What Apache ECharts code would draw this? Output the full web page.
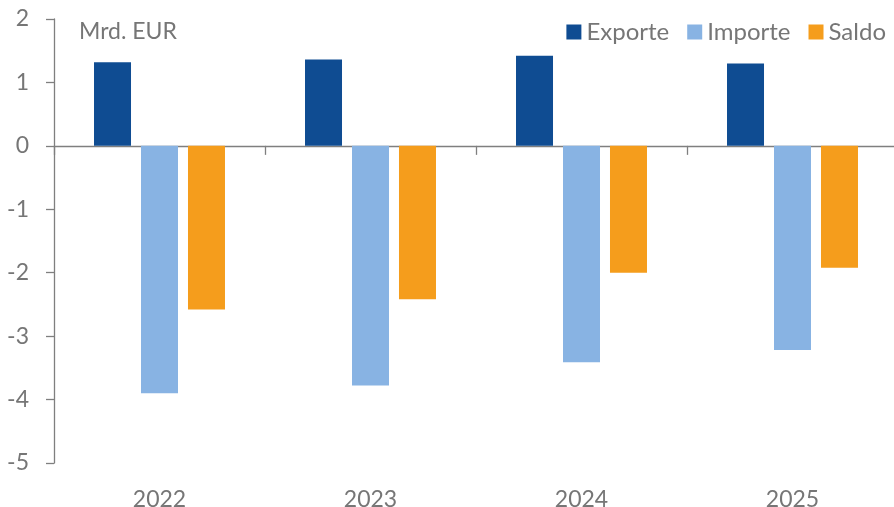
<!DOCTYPE html>
<html>
<head>
<meta charset="utf-8">
<script src="https://cdn.jsdelivr.net/npm/echarts@6/dist/echarts.min.js"></script>
<style>
  html, body { margin: 0; padding: 0; background: #fff; }
  #main { width: 894px; height: 507px; }
</style>
</head>
<body>
<div id="main"></div>
<script>
// Daten (Mrd. EUR)
var years = ['2022', '2023', '2024', '2025'];
var exporte = [1.32, 1.36, 1.42, 1.30];
var importe = [-3.90, -3.78, -3.41, -3.22];
var saldo = [-2.58, -2.42, -2.00, -1.92];
var yTicks = [-5, -4, -3, -2, -1, 0, 1, 2];

var textColor = '#767676';
var axisColor = '#7f7f7f';
var font = 'Lato';

function makeBar(divId) {
    var myChart = echarts.init(document.getElementById(divId));
    var option = {
        animation: false,
        textStyle: { fontFamily: font },
        title: {
            text: 'Mrd. EUR',
            left: 74,
            top: 15,
            textStyle: { color: textColor, fontSize: 23, fontWeight: 'normal', fontFamily: font }
        },
        legend: {
            data: ['Exporte', 'Importe', 'Saldo'],
            right: 3,
            top: 15,
            itemWidth: 15,
            itemHeight: 15,
            itemGap: 18,
            icon: 'rect',
            textStyle: { color: textColor, fontSize: 24, fontFamily: font, padding: [0, 0, 0, 0] }
        },
        grid: {
            left: 54,
            right: -4,
            top: 19,
            bottom: 44,
            containLabel: false,
            outerBoundsMode: 'none'
        },
        xAxis: [{
            type: 'category',
            data: years,
            axisLine: { onZero: true, lineStyle: { color: axisColor, width: 1.3 } },
            axisTick: { show: true, length: 9, inside: false, lineStyle: { color: axisColor, width: 1.3 } },
            axisLabel: { show: false },
            splitLine: { show: false }
        }, {
            type: 'category',
            data: years,
            position: 'bottom',
            axisLine: { show: false, onZero: false },
            axisTick: { show: false },
            axisLabel: { show: true, color: textColor, fontSize: 23, margin: 25, fontFamily: font },
            splitLine: { show: false }
        }],
        yAxis: {
            type: 'value',
            min: yTicks[0],
            max: yTicks[yTicks.length - 1],
            interval: 1,
            axisLine: { show: true, lineStyle: { color: axisColor, width: 1.3 } },
            axisTick: { show: true, length: 8, lineStyle: { color: axisColor, width: 1.3 } },
            axisLabel: { color: textColor, fontSize: 23, margin: 25, fontFamily: font },
            splitLine: { show: false }
        },
        series: [{
            name: 'Exporte',
            type: 'bar',
            data: exporte,
            barWidth: 37,
            barGap: '27%',
            itemStyle: { color: '#0f4c92' }
        }, {
            name: 'Importe',
            type: 'bar',
            data: importe,
            barWidth: 37,
            barGap: '27%',
            itemStyle: { color: '#88b3e3' }
        }, {
            name: 'Saldo',
            type: 'bar',
            data: saldo,
            barWidth: 37,
            barGap: '27%',
            itemStyle: { color: '#f59d1c' }
        }]
    };
    myChart.setOption(option);
}

makeBar('main');
</script>
</body>
</html>
